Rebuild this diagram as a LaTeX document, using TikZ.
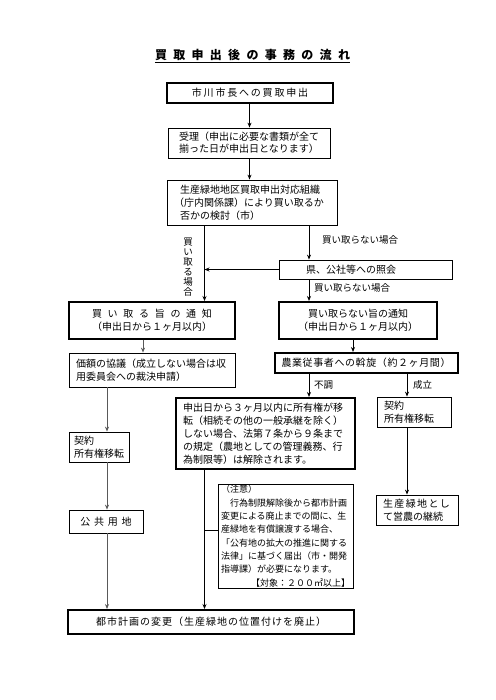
\documentclass[tikz,border=0pt]{standalone}
\usepackage{fontspec}
\newfontfamily\jp{Noto Sans CJK JP}
\usetikzlibrary{arrows.meta}

% spread the characters of #2 apart by #1
\makeatletter
\newcommand\spaced[2]{\def\sp@gap{#1}\sp@loop#2\relax}
\def\sp@loop#1#2{#1\ifx\relax#2\else\hspace{\sp@gap}\expandafter\sp@loop\fi#2}
\makeatother

\tikzset{
  box/.style={draw, line width=0.8pt, inner xsep=7pt, inner ysep=0pt,
    font=\jp\fontsize{10}{13}\selectfont},
  boldbox/.style={box, line width=2pt},
  flow/.style={line width=0.9pt, -{Stealth[length=5pt,width=4pt]}},
  thinflow/.style={flow, draw=black!65},
  lbl/.style={inner sep=0pt, font=\jp\fontsize{9.5}{10}\selectfont}
}

\begin{document}
\begin{tikzpicture}[x=1pt, y=-1pt]
  \path[fill=white, use as bounding box] (0,0) rectangle (495,700);
  % title
  \node[inner sep=0pt, font=\jp\bfseries\fontsize{12}{14}\selectfont] (title) at (252.5,55)
    {\spaced{6.3pt}{買取申出後の事務の流れ}};
  \draw[line width=1pt] ([yshift=-2pt]title.south west) -- ([yshift=-2pt]title.south east);

  % columns of the connectors
  \coordinate (cM) at (249.5,0);
  \coordinate (cA) at (204.5,0);
  \coordinate (cB) at (309,0);
  \coordinate (cC) at (143,0);
  \coordinate (cD) at (107,0);
  \coordinate (cE) at (353,0);
  \coordinate (cF) at (407,0);

  % upper part
  \node[boldbox, minimum width=166pt, minimum height=20pt] (moushide) at (250,93)
    {\spaced{1.8pt}{市川市長への買取申出}};
  \node[box, minimum width=162pt, minimum height=30pt, align=center,
    font=\jp\fontsize{10}{12}\selectfont] (juri) at (249,143)
    {受理（申出に必要な書類が全て\\揃った日が申出日となります）};
  \node[box, text width=156pt, minimum height=45pt, align=left] (kentou) at (252,202.5)
    {\hspace*{6pt}生産緑地地区買取申出対応組織\\（庁内関係課）により買い取るか\\\hspace*{6pt}否かの検討（市）};
  \node[box, text width=159pt, minimum height=19pt, align=left] (ken) at (365.5,269.5)
    {\hspace*{20pt}県、公社等への照会};

  % left branch
  \node[boldbox, minimum width=166pt, minimum height=37pt, align=center] (kaitoru) at (152,320.5)
    {\spaced{5.7pt}{買い取る旨の通知}\\（申出日から１ヶ月以内）};
  \node[box, text width=152pt, minimum height=34pt, align=left] (kagaku) at (152,370)
    {価額の協議（成立しない場合は収\\用委員会への裁決申請）};
  \node[box, inner xsep=5pt, text width=50pt, minimum height=30pt, align=left] (keiyakuL) at (99,447)
    {契約\\所有権移転};
  \node[box, minimum width=74pt, minimum height=23pt] (koukyou) at (106,521.5)
    {\spaced{3.7pt}{公共用地}};

  % right branch
  \node[boldbox, minimum width=158pt, minimum height=37pt, align=center] (fukai) at (358,320.5)
    {買い取らない旨の通知\\（申出日から１ヶ月以内）};
  \node[boldbox, minimum width=174pt, minimum height=20pt] (assen) at (366,363)
    {\spaced{0.6pt}{農業従事者への斡旋（約２ヶ月間）}};
  \node[boldbox, text width=165pt, minimum height=71pt, align=left] (kaijo) at (265.5,433.5)
    {申出日から３ヶ月以内に所有権が移\\転（相続その他の一般承継を除く）\\しない場合、法第７条から９条まで\\の規定（農地としての管理義務、行\\為制限等）は解除されます。};
  \node[box, text width=60pt, minimum height=30pt, align=left] (keiyakuR) at (414,412)
    {契約\\所有権移転};
  \node[box, text width=68pt, minimum height=30pt, align=left] (einou) at (417,510)
    {\spaced{1.4pt}{生産緑地とし}\\て営農の継続};
  \node[box, inner xsep=3pt, text width=129pt, minimum height=104pt, align=left,
    font=\jp\fontsize{9}{13.3}\selectfont] (chui) at (285.5,536)
    {（注意）\\　行為制限解除後から都市計画\\変更による廃止までの間に、生\\産緑地を有償譲渡する場合、\\「公有地の拡大の推進に関する\\法律」に基づく届出（市・開発\\指導課）が必要になります。\\\hspace*{\fill}【対象：２００㎡以上】};

  % bottom
  \node[boldbox, minimum width=286pt, minimum height=24pt] (toshi) at (211,622)
    {\spaced{1pt}{都市計画の変更（生産緑地の位置付けを廃止）}};

  % connectors
  \draw[flow] (moushide.south -| cM) -- (juri.north -| cM);
  \draw[flow] (juri.south -| cM) -- (kentou.north -| cM);
  \draw[flow] (kentou.south -| cA) -- (kaitoru.north -| cA);
  \draw[flow] (kentou.south -| cB) -- (ken.north -| cB);
  \draw[flow] (ken.west) -- (ken.west -| cA);
  \draw[flow] (ken.south -| cB) -- (fukai.north -| cB);
  \draw[thinflow] (kaitoru.south -| cC) -- (kagaku.north -| cC);
  \draw[thinflow] (kagaku.south -| cD) -- (keiyakuL.north -| cD);
  \draw[thinflow] (keiyakuL.south -| cD) -- (koukyou.north -| cD);
  \draw[thinflow] (koukyou.south -| cD) -- (toshi.north -| cD);
  \draw[flow] (fukai.south -| cE) -- (assen.north -| cE);
  \draw[flow] (assen.south -| cB) -- (kaijo.north -| cB);
  \draw[flow] (assen.south -| cF) -- (keiyakuR.north -| cF);
  \draw[flow] (keiyakuR.south -| cF) -- (einou.north -| cF);
  \draw[flow] (kaijo.south -| cA) -- (toshi.north -| cA);
  \draw[line width=0.8pt] ([yshift=6pt]chui.west) -- ([yshift=6pt]chui.west -| cA);

  % labels
  \node[lbl, align=center] (lblbuy) at (188,267) {買\\い\\取\\る\\場\\合};
  \node[lbl, anchor=west] (lblnot) at (322,240) {買い取らない場合};
  \node[lbl, anchor=west] (lblnot2) at (314,288) {買い取らない場合};
  \node[lbl, anchor=west] (lblfail) at (314,385) {不調};
  \node[lbl, anchor=west] (lblok) at (413,385) {成立};
\end{tikzpicture}
\end{document}
